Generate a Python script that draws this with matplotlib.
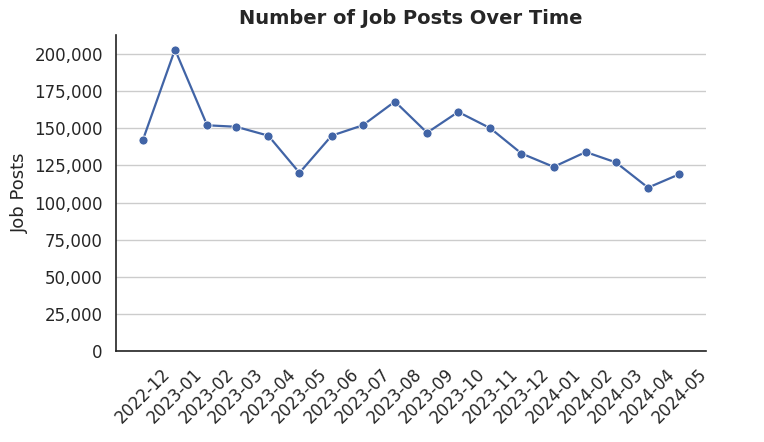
import matplotlib
matplotlib.use("Agg")
import matplotlib.pyplot as plt
import matplotlib.dates as mdates
import matplotlib.ticker as mticker
import seaborn as sns
import pandas as pd

months = pd.date_range("2022-12-01", periods=18, freq="MS")
posts = [142000, 203000, 152000, 151000, 145000, 120000, 145000, 152000, 168000,
         147000, 161000, 150000, 133000, 124000, 134000, 127000, 110000, 119000]

sns.set_theme(style="whitegrid")
fig = plt.figure(figsize=(7.64, 4.42), dpi=100)
ax = fig.add_axes([116/764, 1-351/442, 590/764, 316/442])
ax.plot(months, posts, marker="o", color="#4164a6", linewidth=1.6, markersize=6.5,
        markeredgecolor="white", markeredgewidth=0.6)
ax.set_ylim(0, 212800)
ax.yaxis.set_major_locator(mticker.MultipleLocator(25000))
ax.yaxis.set_major_formatter(mticker.FuncFormatter(lambda v, p: f"{int(v):,}"))
ax.xaxis.set_major_locator(mdates.MonthLocator())
ax.xaxis.set_major_formatter(mdates.DateFormatter("%Y-%m"))
ax.grid(axis="x", visible=False)
ax.grid(axis="y", color="#cccccc")
for s in ["top", "right"]:
    ax.spines[s].set_visible(False)
for s in ["left", "bottom"]:
    ax.spines[s].set_color("#222222")
    ax.spines[s].set_linewidth(1.2)
ax.tick_params(axis="x", rotation=45, labelsize=12, length=0, pad=10)
ax.tick_params(axis="y", labelsize=12)
ax.set_ylabel("Job Posts", fontsize=13)
ax.set_title("Number of Job Posts Over Time", fontsize=14, fontweight="bold", pad=8)
fig.savefig("out.png", dpi=100)
